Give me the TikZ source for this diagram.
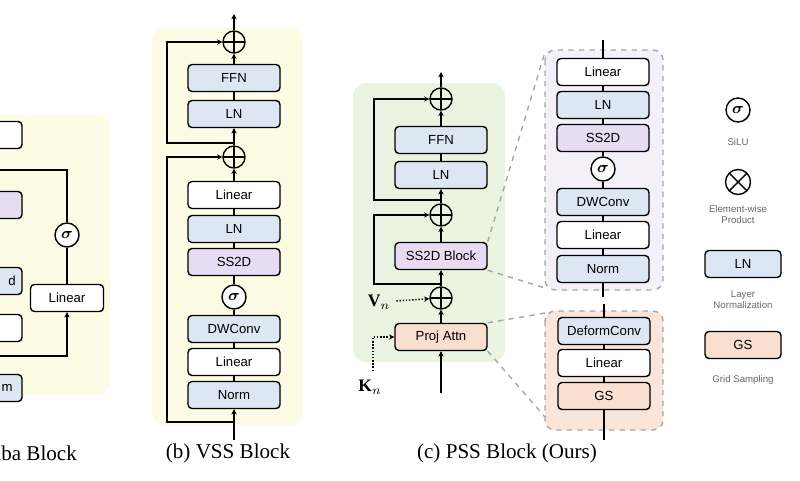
\documentclass[tikz,border=0pt]{standalone}
\usepackage{amsmath}
\usepackage{fontspec}
\setmainfont{Liberation Serif}
\newfontfamily\boxfont{Liberation Sans}
\usetikzlibrary{arrows.meta,positioning,shadows}
\definecolor{bgYellow}{HTML}{FCFBE4}
\definecolor{bgGreen}{HTML}{EAF4E1}
\definecolor{bgLav}{HTML}{F4F0F9}
\definecolor{bgPeach}{HTML}{FAE5DB}
\definecolor{fillBlue}{HTML}{DCE7F3}
\definecolor{fillPurp}{HTML}{E8DCF2}
\definecolor{fillPeach}{HTML}{F9DFCF}
\tikzstyle{recNode} = [rectangle, minimum width=1.84cm, minimum height=0.54cm, inner sep=0pt, text centered, rounded corners=0.08cm, draw=black, thick, fill=white, font=\boxfont\fontsize{7.5}{8}\selectfont, drop shadow={opacity=0.25,shadow xshift=0.4pt,shadow yshift=-0.4pt}]
\tikzstyle{recNodeB} = [recNode, fill=fillBlue]
\tikzstyle{recNodeP} = [recNode, fill=fillPurp]
\tikzstyle{recNodeO} = [recNode, fill=fillPeach]
\tikzstyle{sigNode} = [circle, draw=black, thick, fill=white, minimum size=0.48cm, inner sep=0pt, font=\bfseries\fontsize{9}{9}\selectfont, drop shadow={opacity=0.25,shadow xshift=0.4pt,shadow yshift=-0.4pt}]
\tikzstyle{plusNode} = [circle, draw=black, thick, minimum size=0.44cm, inner sep=0pt, path picture={\draw[thick] (path picture bounding box.north) -- (path picture bounding box.south) (path picture bounding box.west) -- (path picture bounding box.east);}]
\tikzstyle{timesNode} = [circle, draw=black, thick, minimum size=0.5cm, inner sep=0pt, path picture={\draw[thick] (path picture bounding box.north west) -- (path picture bounding box.south east) (path picture bounding box.south west) -- (path picture bounding box.north east);}]
\tikzstyle{bgBox} = [rounded corners=0.25cm, draw=none]
\tikzstyle{zoomBox} = [rounded corners=0.2cm, draw=gray!70, dashed, thick]
\tikzstyle{arrow} = [thick,-{Stealth[length=3pt,width=3pt]},draw=black]
\tikzstyle{line} = [thick,draw=black]
\tikzstyle{dotArrow} = [thick,densely dotted,-{Stealth[length=3pt,width=3pt]}]
\tikzstyle{zoomLine} = [gray!70, dashed, thick]
\tikzstyle{legText} = [font=\boxfont\fontsize{5.5}{6.5}\selectfont, text=gray!80!black, align=center]
\tikzstyle{caption} = [font=\fontsize{12}{13}\selectfont]

\begin{document}
\begin{tikzpicture}[x=0.02cm,y=-0.02cm]
        \useasboundingbox (0,0) rectangle (800,480);
        \clip (0,0) rectangle (800,480);

        % (a) mamba block, cut at the left border
        \fill[bgYellow, bgBox] (-100,115) rectangle (110,395);
        \node (mTop) [recNode] at (-24,135) {};
        \node (mSS) [recNodeP] at (-24,205) {};
        \node (mConv) [recNodeB] at (-24,281) {};
        \node (mConvT) at (12,281) {\boxfont\fontsize{7.5}{8}\selectfont d};
        \node (mLin) [recNode] at (-24,328) {};
        \node (mNorm) [recNodeB] at (-24,388) {};
        \node (mNormT) at (7,388) {\boxfont\fontsize{7.5}{8}\selectfont m};
        \node (mSig) [sigNode] at (67,235) {$\boldsymbol{\sigma}$};
        \node (mGate) [recNode, minimum width=1.46cm] at (67,298) {Linear};
        \coordinate (mA) at (0,170);
        \coordinate (mB) at (0,356);
        \node (capA) [caption, anchor=east] at (83,453) {aba Block};
        \draw [line] (mA) -| (mSig);
        \draw [line] (mSig) -- (mGate);
        \draw [arrow] (mB) -| (mGate);

        % (b) VSS block
        \fill[bgYellow, bgBox] (152,28) rectangle (303,425);
        \node (vPlusT) [plusNode] at (234,42) {};
        \node (vFFN) [recNodeB] at (234,78) {FFN};
        \node (vLN1) [recNodeB] at (234,114) {LN};
        \node (vPlusB) [plusNode] at (234,157) {};
        \node (vLin2) [recNode] at (234,195) {Linear};
        \node (vLN2) [recNodeB] at (234,229) {LN};
        \node (vSS) [recNodeP] at (234,262) {SS2D};
        \node (vSig) [sigNode] at (234,297) {$\boldsymbol{\sigma}$};
        \node (vDW) [recNodeB] at (234,329) {DWConv};
        \node (vLin1) [recNode] at (234,362) {Linear};
        \node (vNorm) [recNodeB] at (234,395) {Norm};
        \coordinate (vIn) at (234,440);
        \coordinate (vOut) at (234,14);
        \coordinate (vSkipB) at (234,422);
        \coordinate (vSkipT) at (234,143);
        \node (capB) [caption] at (228,453) {(b) VSS Block};

        \draw [arrow] (vIn) -- (vNorm);
        \foreach \a/\b in {vNorm/vLin1, vLin1/vDW, vDW/vSig, vSig/vSS, vSS/vLN2, vLN2/vLin2, vLN1/vFFN}
            \draw [line] (\a) -- (\b);
        \draw [arrow] (vLin2) -- (vPlusB);
        \draw [arrow] (vPlusB) -- (vLN1);
        \draw [arrow] (vFFN) -- (vPlusT);
        \draw [arrow] (vPlusT) -- (vOut);
        \draw [arrow] (vSkipB) -| (167,300) |- (vPlusB);
        \draw [arrow] (vSkipT) -| (167,100) |- (vPlusT);

        % (c) PSS block
        \fill[bgGreen, bgBox] (353,83) rectangle (505,362);
        \node (pPlusT) [plusNode] at (441,99) {};
        \node (pFFN) [recNodeB] at (441,140) {FFN};
        \node (pLN) [recNodeB] at (441,175) {LN};
        \node (pPlusM) [plusNode] at (441,215) {};
        \node (pSS) [recNodeP] at (441,256) {SS2D Block};
        \node (pPlusB) [plusNode] at (441,298) {};
        \node (pProj) [recNodeO] at (441,337) {Proj Attn};
        \coordinate (pIn) at (441,393);
        \coordinate (pOut) at (441,72);
        \coordinate (pSkipT) at (441,200);
        \coordinate (pSkipB) at (441,284);
        \node (vN) at (379,302) {$\mathbf{V}_n$};
        \node (kN) at (370,387) {$\mathbf{K}_n$};
        \coordinate (kC) at (373,371);
        \node (capC) [caption] at (507,453) {(c) PSS Block (Ours)};

        \draw [arrow] (pIn) -- (pProj);
        \draw [arrow] (pProj) -- (pPlusB);
        \draw [arrow] (pPlusB) -- (pSS);
        \draw [arrow] (pSS) -- (pPlusM);
        \draw [arrow] (pPlusM) -- (pLN);
        \draw [line] (pLN) -- (pFFN);
        \draw [arrow] (pFFN) -- (pPlusT);
        \draw [arrow] (pPlusT) -- (pOut);
        \draw [arrow] (pSkipB) -| (374,250) |- (pPlusM);
        \draw [arrow] (pSkipT) -| (374,150) |- (pPlusT);
        \draw [dotArrow] (vN) -- (pPlusB);
        \draw [dotArrow] (kC) |- (pProj);

        % zoom of SS2D block
        \draw [zoomBox, fill=bgLav] (545,50) rectangle (663,290);
        \node (zLin2) [recNode] at (603,72) {Linear};
        \node (zLN) [recNodeB] at (603,105) {LN};
        \node (zSS) [recNodeP] at (603,138) {SS2D};
        \node (zSig) [sigNode] at (603,169) {$\boldsymbol{\sigma}$};
        \node (zDW) [recNodeB] at (603,202) {DWConv};
        \node (zLin1) [recNode] at (603,235) {Linear};
        \node (zNorm) [recNodeB] at (603,269) {Norm};
        \coordinate (zTop) at (603,40);
        \coordinate (zBot) at (603,297);
        \draw [line] (zBot) -- (zNorm);
        \foreach \a/\b in {zNorm/zLin1, zLin1/zDW, zDW/zSig, zSig/zSS, zSS/zLN, zLN/zLin2}
            \draw [line] (\a) -- (\b);
        \draw [line] (zLin2) -- (zTop);
        \draw [zoomLine] (pSS.north east) -- (545,52);
        \draw [zoomLine] (pSS.south east) -- (545,288);

        % zoom of projected attention
        \draw [zoomBox, fill=bgPeach] (545,311) rectangle (663,430);
        \node (zDef) [recNodeB] at (604,331) {DeformConv};
        \node (zLin3) [recNode] at (604,363) {Linear};
        \node (zGS) [recNodeO] at (604,396) {GS};
        \coordinate (zTop2) at (604,304);
        \coordinate (zBot2) at (604,440);
        \draw [line] (zBot2) -- (zGS);
        \draw [line] (zGS) -- (zLin3);
        \draw [line] (zLin3) -- (zDef);
        \draw [line] (zDef) -- (zTop2);
        \draw [zoomLine] (pProj.north east) -- (545,313);
        \draw [zoomLine] (pProj.south east) -- (545,417);

        % legend
        \node (lSig) [sigNode] at (738,110) {$\boldsymbol{\sigma}$};
        \node (lSigT) [legText, below=0.2cm of lSig] {SiLU};
        \node (lTimes) [timesNode] at (738,182) {};
        \node (lTimesT) [legText, below=0.08cm of lTimes] {Element-wise\\Product};
        \node (lLN) [recNodeB, minimum width=1.52cm] at (743,264) {LN};
        \node (lLNT) [legText, below=0.12cm of lLN] {Layer\\Normalization};
        \node (lGS) [recNodeO, minimum width=1.52cm] at (743,345) {GS};
        \node (lGST) [legText, below=0.2cm of lGS] {Grid Sampling};
\end{tikzpicture}
\end{document}
